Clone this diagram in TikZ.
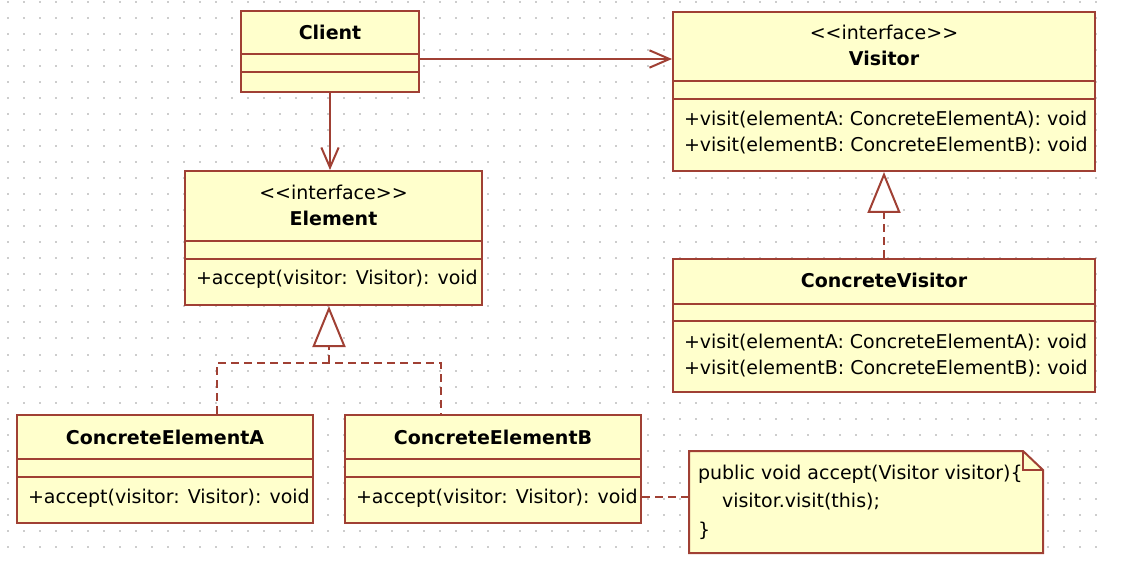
\documentclass[tikz,border=0pt]{standalone}
\usepackage{fontspec}
\setmainfont{DejaVu Sans}
\usetikzlibrary{arrows.meta,calc,fit,positioning}

\definecolor{umlborder}{RGB}{160,64,52}
\definecolor{umlfill}{RGB}{255,255,204}
\definecolor{umlgrid}{RGB}{205,205,205}

\tikzset{
	umlpicture/.style = {
		x = 0.75pt,
		y = -0.75pt,
		line width = 1.5pt,
		assoc/.style = {
			draw = umlborder,
			-{Straight Barb[length=15pt, width=13pt]},
		},
		realize/.style = {
			draw = umlborder,
			dash pattern = on 6pt off 3.75pt,
			-{Triangle[length=30.75pt, width=24.75pt, fill=white]},
		},
		dashline/.style = {
			draw = umlborder,
			dash pattern = on 6pt off 3.75pt,
		}
	},
	umlclass/.style = {
		draw = umlborder,
		fill = umlfill,
		inner sep = 0pt
	},
	umlnote/.style = {
		inner sep = 0pt,
		outer sep = 0pt
	},
	umlline/.style = {
		draw = umlborder
	},
	umltext/.style = {
		inner sep = 0pt,
		font = \fontsize{14.25pt}{19.5pt}\selectfont
	},
	umlname/.style = {
		umltext,
		font = \fontsize{14.25pt}{19.5pt}\selectfont\bfseries
	},
	umlops/.style = {
		umltext,
		align = left
	}
}

\begin{document}
\begin{tikzpicture}[umlpicture]
	\useasboundingbox (0,0) rectangle (1140,574);

	% dotted grid
	\foreach \gy in {0,...,34} {
		\draw[umlgrid, dash pattern = on 1.5pt off 10.5pt] (7,{2.5+16*\gy}) -- (1098,{2.5+16*\gy});
	}

	% Client
	\node[umlclass, fit = {(241,11) (419,92)}] (client) {};
	\draw[umlline] (client.west |- 0,54) -- (client.east |- 0,54);
	\draw[umlline] (client.west |- 0,72) -- (client.east |- 0,72);
	\node[umlname] (client-name) at (client.north |- 0,32) {Client};

	% Visitor
	\node[umlclass, fit = {(673,12) (1095,171)}] (visitor) {};
	\draw[umlline] (visitor.west |- 0,81) -- (visitor.east |- 0,81);
	\draw[umlline] (visitor.west |- 0,99) -- (visitor.east |- 0,99);
	\node[umltext] (visitor-stereo) at (visitor.north |- 0,32)
		{<\kern0pt<\kern0pt interface\kern0pt>\kern0pt>};
	\node[umlname] (visitor-name) at (visitor.north |- 0,58) {Visitor};
	\node[umlops, right = 8.25pt] (visitor-ops) at (visitor.west |- 0,133)
		{+visit(elementA: ConcreteElementA): void\\+visit(elementB: ConcreteElementB): void};

	% Element
	\node[umlclass, fit = {(185,171) (482,305)}] (element) {};
	\draw[umlline] (element.west |- 0,241) -- (element.east |- 0,241);
	\draw[umlline] (element.west |- 0,259) -- (element.east |- 0,259);
	\node[umltext] (element-stereo) at (element.north |- 0,192)
		{<\kern0pt<\kern0pt interface\kern0pt>\kern0pt>};
	\node[umlname] (element-name) at (element.north |- 0,218) {Element};
	\node[umlops, right = 8.25pt] (element-ops) at (element.west |- 0,279) {+accept(visitor: Visitor): void};

	% ConcreteVisitor
	\node[umlclass, fit = {(673,259) (1095,392)}] (cvisitor) {};
	\draw[umlline] (cvisitor.west |- 0,304) -- (cvisitor.east |- 0,304);
	\draw[umlline] (cvisitor.west |- 0,321) -- (cvisitor.east |- 0,321);
	\node[umlname] (cvisitor-name) at (cvisitor.north |- 0,280) {ConcreteVisitor};
	\node[umlops, right = 8.25pt] (cvisitor-ops) at (cvisitor.west |- 0,355.5)
		{+visit(elementA: ConcreteElementA): void\\+visit(elementB: ConcreteElementB): void};

	% ConcreteElementA
	\node[umlclass, fit = {(17,415) (313,523)}] (cea) {};
	\draw[umlline] (cea.west |- 0,459) -- (cea.east |- 0,459);
	\draw[umlline] (cea.west |- 0,477) -- (cea.east |- 0,477);
	\node[umlname] (cea-name) at (cea.north |- 0,437) {ConcreteElementA};
	\node[umlops, right = 8.25pt] (cea-ops) at (cea.west |- 0,498) {+accept(visitor: Visitor): void};

	% ConcreteElementB
	\node[umlclass, fit = {(345,415) (641,523)}] (ceb) {};
	\draw[umlline] (ceb.west |- 0,459) -- (ceb.east |- 0,459);
	\draw[umlline] (ceb.west |- 0,477) -- (ceb.east |- 0,477);
	\node[umlname] (ceb-name) at (ceb.north |- 0,437) {ConcreteElementB};
	\node[umlops, right = 8.25pt] (ceb-ops) at (ceb.west |- 0,498) {+accept(visitor: Visitor): void};

	% note
	\node[umlnote, fit = {(689,451) (1043,553)}] (note) {};
	\draw[umlclass] (note.north west) -- ($(note.north east)+(-20,0)$) -- ($(note.north east)+(0,19)$)
		-- (note.south east) -- (note.south west) -- cycle;
	\draw[umlline] ($(note.north east)+(-20,0)$) -- ($(note.north east)+(-20,19)$) -- ($(note.north east)+(0,19)$);
	\node[umlops, font = \fontsize{14.25pt}{21.4pt}\selectfont, right = 6pt] (note-text) at (note.west |- 0,502)
		{public void accept(Visitor visitor)\{\\\hspace*{18pt}visitor.visit(this);\\\}};

	% connectors
	\coordinate (hub) at (329,363);
	\draw[assoc] (client.south) -- (client.south |- element.north);
	\draw[assoc] (client.east |- 0,59) -- (visitor.west |- 0,59);
	\draw[dashline] (cea.north -| 217,0) |- (hub) -| (ceb.north -| 441,0);
	\draw[realize] (hub) -- (hub |- element.south);
	\draw[realize] (cvisitor.north) -- (visitor.south);
	\draw[dashline] (ceb.east |- 0,497) -- (note.west |- 0,497);
\end{tikzpicture}
\end{document}
